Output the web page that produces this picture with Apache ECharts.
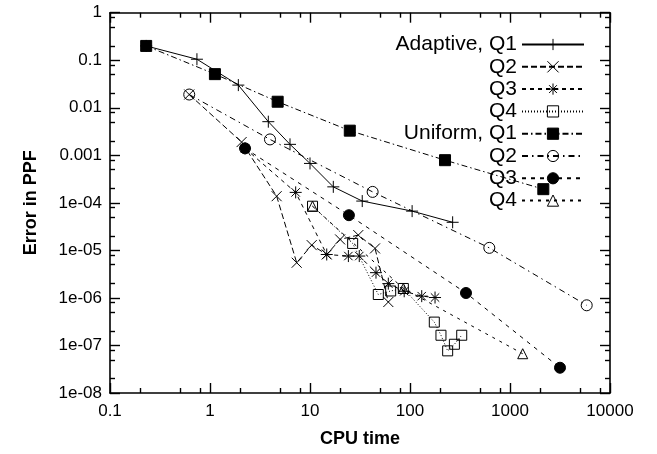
<!DOCTYPE html>
<html>
<head>
<meta charset="utf-8">
<script src="https://cdn.jsdelivr.net/npm/echarts@6/dist/echarts.min.js"></script>
<style>
  html, body { margin: 0; padding: 0; background: #fff; }
  #chart { width: 657px; height: 454px; }
</style>
</head>
<body>
<div id="chart"></div>
<script>
// CPU time vs. error in PPF, adaptive and uniform refinement, quantities Q1..Q4
const adaptiveQ1 = [[0.23, 0.2], [0.74, 0.105], [1.92, 0.030], [3.83, 0.0051], [6.31, 0.0017], [10, 6.75e-4], [17.1, 2.17e-4], [33.3, 1.09e-4], [105, 6.7e-5], [267, 3.9e-5]];
const adaptiveQ2 = [[0.62, 0.019], [2.07, 1.9e-3], [4.64, 1.38e-4], [7.36, 5.5e-6], [10.4, 1.29e-5], [14.7, 8.2e-6], [20, 1.7e-5], [30.4, 2.1e-5], [44.7, 1.1e-5], [60.7, 8.2e-7]];
const adaptiveQ3 = [[2.24, 1.4e-3], [7.19, 1.66e-4], [14.7, 8.2e-6], [24.2, 7.6e-6], [31.1, 7.6e-6], [45.7, 3.4e-6], [60.7, 2.0e-6], [87.5, 1.38e-6], [131, 1.09e-6], [178, 1.02e-6]];
const adaptiveQ4 = [[10.6, 8.5e-5], [26.7, 1.4e-5], [48.2, 1.18e-6], [64.1, 1.4e-6], [85.8, 1.58e-6], [175, 3.1e-7], [204, 1.64e-7], [238, 7.7e-8], [278, 1.06e-7], [329, 1.64e-7]];
const uniformQ1 = [[0.23, 0.2], [1.12, 0.051], [4.75, 0.0134], [25, 0.0033], [224, 7.9e-4], [2154, 1.94e-4]];
const uniformQ2 = [[0.62, 0.019], [3.98, 2.16e-3], [42.3, 1.7e-4], [621, 1.13e-5], [5848, 7.0e-7]];
const uniformQ3 = [[2.24, 1.4e-3], [24.5, 5.5e-5], [363, 1.27e-6], [3162, 3.4e-8]];
const uniformQ4 = [[10.6, 8.5e-5], [85.8, 1.58e-6], [1340, 6.7e-8]];

// axis ticks
const xMajorTicks = [0.1, 1, 10, 100, 1000, 10000];
const xTickLabels = ['0.1', '1', '10', '100', '1000', '10000'];
const yMajorTicks = [1, 0.1, 0.01, 0.001, 1e-4, 1e-5, 1e-6, 1e-7, 1e-8];
const yTickLabels = ['1', '0.1', '0.01', '0.001', '1e-04', '1e-05', '1e-06', '1e-07', '1e-08'];
const minorSteps = [2, 5, 8];

function minorTicks(decades) {
  const out = [];
  decades.forEach(d => minorSteps.forEach(m => out.push(+(d * m).toPrecision(3))));
  return out;
}
const xMinorTicks = minorTicks([0.1, 1, 10, 100, 1000]);
const yMinorTicks = minorTicks([1e-8, 1e-7, 1e-6, 1e-5, 1e-4, 1e-3, 1e-2, 1e-1]);

const FONT = 'Liberation Sans, Arial, Helvetica, sans-serif';
const INK = '#000';

// marker shapes (stroked paths)
const SYM_PLUS = 'path://M0,5H10M5,0V10';
const SYM_CROSS = 'path://M0,0L10,10M10,0L0,10';
const SYM_STAR = 'path://M0,5H10M5,0V10M1.5,1.5L8.5,8.5M8.5,1.5L1.5,8.5';
const SYM_BOX = 'path://M0,0H10V10H0Z';
const SYM_TRI = 'path://M5,0L10,9H0Z';

function lineSeries(name, data, dash, symbol, size, filled) {
  return {
    name: name,
    type: 'line',
    data: data,
    xAxisIndex: 0,
    yAxisIndex: 0,
    symbol: symbol,
    symbolSize: size,
    showSymbol: true,
    showAllSymbol: true,
    animation: false,
    silent: true,
    lineStyle: { color: INK, width: 1, type: dash },
    itemStyle: { color: filled ? INK : 'rgba(0,0,0,0)', borderColor: INK, borderWidth: 1 },
    emphasis: { disabled: true }
  };
}

const series = [
  lineSeries('Adaptive, Q1', adaptiveQ1, 'solid', SYM_PLUS, 12, false),
  lineSeries('Adaptive, Q2', adaptiveQ2, [6, 3], SYM_CROSS, 10, false),
  lineSeries('Adaptive, Q3', adaptiveQ3, [4, 4], SYM_STAR, 12, false),
  lineSeries('Adaptive, Q4', adaptiveQ4, [1, 2], SYM_BOX, 10, false),
  lineSeries('Uniform, Q1', uniformQ1, [6, 3, 1.5, 3], 'rect', 11, true),
  lineSeries('Uniform, Q2', uniformQ2, [6, 4, 1.5, 4], 'circle', 11, false),
  lineSeries('Uniform, Q3', uniformQ3, [4, 5], 'circle', 11, true),
  lineSeries('Uniform, Q4', uniformQ4, [3, 5], SYM_TRI, 10, false)
];

function logAxis(dim, position, ticks, tickLen, withLine, withLabels) {
  const isX = dim === 'x';
  const ax = {
    type: 'log',
    logBase: 10,
    position: position,
    min: isX ? 0.1 : 1e-8,
    max: isX ? 10000 : 1,
    axisLine: { show: withLine, lineStyle: { color: INK, width: 1.6 } },
    axisTick: { show: true, inside: true, length: tickLen, customValues: ticks, lineStyle: { color: INK, width: 1.4 } },
    splitLine: { show: false },
    minorTick: { show: false },
    axisLabel: { show: false },
    silent: true
  };
  if (withLabels) {
    ax.axisLabel = {
      show: true,
      customValues: isX ? xMajorTicks : yMajorTicks,
      color: INK,
      fontFamily: FONT,
      fontSize: 17,
      margin: isX ? 10 : 8,
      formatter: function (v) {
        const e = Math.round(Math.log10(v));
        return isX ? xTickLabels[e + 1] : yTickLabels[-e];
      }
    };
  }
  return ax;
}

const xMain = logAxis('x', 'bottom', xMajorTicks, 10, true, true);
xMain.name = 'CPU time';
xMain.nameLocation = 'middle';
xMain.nameGap = 37;
xMain.nameTextStyle = { color: INK, fontFamily: FONT, fontSize: 18, fontWeight: 'bold' };

const yMain = logAxis('y', 'left', yMajorTicks, 10, true, true);
yMain.name = 'Error in PPF';
yMain.nameLocation = 'middle';
yMain.nameGap = 70;
yMain.nameTextStyle = { color: INK, fontFamily: FONT, fontSize: 18, fontWeight: 'bold' };

const option = {
  backgroundColor: '#fff',
  animation: false,
  grid: { left: 110, right: 47, top: 12.7, bottom: 61, outerBoundsMode: 'none' },
  xAxis: [
    xMain,
    logAxis('x', 'bottom', xMinorTicks, 5, false, false),
    logAxis('x', 'top', xMajorTicks, 10, true, false),
    logAxis('x', 'top', xMinorTicks, 5, false, false)
  ],
  yAxis: [
    yMain,
    logAxis('y', 'left', yMinorTicks, 5, false, false),
    logAxis('y', 'right', yMajorTicks, 10, true, false),
    logAxis('y', 'right', yMinorTicks, 5, false, false)
  ],
  legend: {
    orient: 'vertical',
    right: 72,
    top: 34,
    padding: 0,
    align: 'right',
    itemWidth: 62,
    itemHeight: 14,
    itemGap: 1.3,
    selectedMode: false,
    textStyle: { color: INK, fontFamily: FONT, fontSize: 21 },
    itemStyle: { borderWidth: 1 },
    formatter: function (name) {
      return name.endsWith('Q1') ? name : name.split(', ')[1];
    },
    data: series.map(s => s.name)
  },
  series: series
};

const chart = echarts.init(document.getElementById('chart'), null, { renderer: 'canvas' });
chart.setOption(option);
</script>
</body>
</html>
